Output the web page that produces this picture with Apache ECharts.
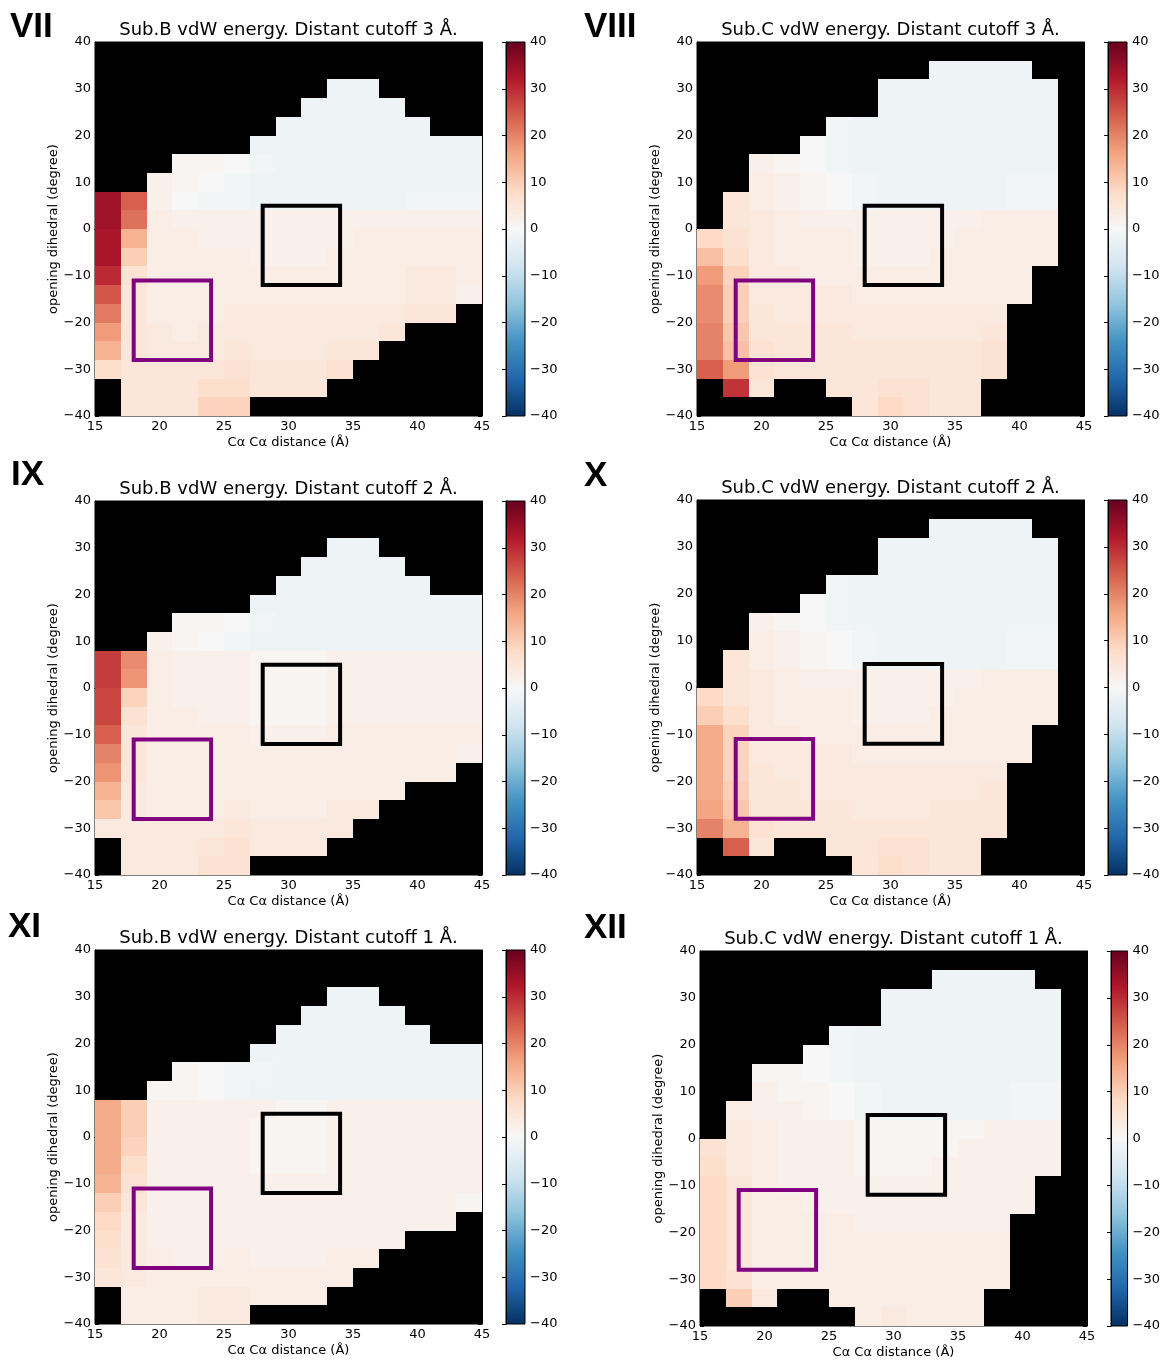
<!DOCTYPE html>
<html><head><meta charset="utf-8">
<script src="https://cdn.jsdelivr.net/npm/echarts@6/dist/echarts.min.js"></script>
<style>html,body{margin:0;padding:0;background:#fff}#c{width:1163px;height:1361px}</style>
</head><body><div id="c"></div><script>
const _ = null;
// cell centres (x: Cα-Cα distance, y: opening dihedral), rows listed top to bottom
const X_CENTERS = [16,18,20,22,24,26,28,30,32,34,36,38,40,42,44];
const Y_CENTERS = [38,34,30,26,22,18,14,10,6,2,-2,-6,-10,-14,-18,-22,-26,-30,-34,-38];
const CELL_W = 2, CELL_H = 4;
const X_TICKS = [15,20,25,30,35,40,45];
const Y_TICKS = [-40,-30,-20,-10,0,10,20,30,40];
const CBAR_TICKS = [-40,-30,-20,-10,0,10,20,30,40];
const V_MIN = -40, V_MAX = 40;

const VII = [
[_,_,_,_,_,_,_,_,_,_,_,_,_,_,_],
[_,_,_,_,_,_,_,_,_,_,_,_,_,_,_],
[_,_,_,_,_,_,_,_,_,-2,-2,_,_,_,_],
[_,_,_,_,_,_,_,_,-2,-2,-2,-2,_,_,_],
[_,_,_,_,_,_,_,-2,-2,-2,-2,-2,-2,_,_],
[_,_,_,_,_,_,-2,-2,-2,-2,-2,-2,-2,-2,-2],
[_,_,_,1,1,0,-1,-2,-2,-2,-2,-2,-2,-2,-2],
[_,_,2,1,0,-1,-2,-2,-2,-2,-2,-2,-2,-2,-2],
[34,24,2,0,-1,-1,-2,-2,-2,-2,-2,-2,-1,-1,-1],
[34,22,3,2,2,2,2,2,2,2,2,2,2,2,2],
[33,14,3,3,2,2,2,2,2,2,3,3,3,3,3],
[33,10,3,3,3,3,2,2,2,3,3,3,3,3,3],
[30,6,3,3,3,3,3,3,3,3,3,3,4,4,3],
[25,5,3,3,3,3,3,3,3,3,3,3,4,4,2],
[21,5,3,3,3,4,4,4,4,4,4,4,5,5,_],
[17,5,4,3,4,4,4,4,4,4,4,5,_,_,_],
[14,5,4,4,4,5,4,4,4,5,5,_,_,_,_],
[7,5,5,5,5,6,5,5,5,6,_,_,_,_,_],
[_,5,5,5,7,7,5,5,5,_,_,_,_,_,_],
[_,5,5,5,9,9,_,_,_,_,_,_,_,_,_]];

const IX = [
[_,_,_,_,_,_,_,_,_,_,_,_,_,_,_],
[_,_,_,_,_,_,_,_,_,_,_,_,_,_,_],
[_,_,_,_,_,_,_,_,_,-2,-2,_,_,_,_],
[_,_,_,_,_,_,_,_,-2,-2,-2,-2,_,_,_],
[_,_,_,_,_,_,_,-2,-2,-2,-2,-2,-2,_,_],
[_,_,_,_,_,_,-2,-2,-2,-2,-2,-2,-2,-2,-2],
[_,_,_,1,1,0,-1,-2,-2,-2,-2,-2,-2,-2,-2],
[_,_,2,1,0,-1,-2,-2,-2,-2,-2,-2,-2,-2,-2],
[28,19,3,2,2,2,1,1,1,2,2,2,2,2,2],
[28,18,3,2,2,2,1,1,1,2,2,2,2,2,2],
[27,9,3,2,2,2,1,1,1,2,2,2,2,2,2],
[27,6,3,3,2,2,1,1,1,2,2,2,2,2,2],
[24,5,3,3,3,3,2,2,2,3,3,3,3,3,3],
[20,5,3,3,3,3,3,3,3,3,3,3,3,3,2],
[18,5,3,3,3,3,3,3,3,3,3,3,3,3,_],
[14,4,3,3,3,3,3,3,3,3,3,3,_,_,_],
[11,4,3,3,3,4,3,3,3,4,4,_,_,_,_],
[4,4,4,4,4,5,4,4,4,4,_,_,_,_,_],
[_,4,4,4,5,6,4,4,4,_,_,_,_,_,_],
[_,4,4,4,6,6,_,_,_,_,_,_,_,_,_]];

const XI = [
[_,_,_,_,_,_,_,_,_,_,_,_,_,_,_],
[_,_,_,_,_,_,_,_,_,_,_,_,_,_,_],
[_,_,_,_,_,_,_,_,_,-2,-2,_,_,_,_],
[_,_,_,_,_,_,_,_,-2,-2,-2,-2,_,_,_],
[_,_,_,_,_,_,_,-2,-2,-2,-2,-2,-2,_,_],
[_,_,_,_,_,_,-2,-2,-2,-2,-2,-2,-2,-2,-2],
[_,_,_,1,0,-1,-1,-2,-2,-2,-2,-2,-2,-2,-2],
[_,_,1,1,0,-1,-2,-2,-2,-2,-2,-2,-2,-2,-2],
[15,10,2,2,2,2,2,1,1,2,2,2,2,2,2],
[15,10,2,2,2,2,1,1,1,2,2,2,2,2,2],
[15,9,2,2,2,2,1,1,1,2,2,2,2,2,2],
[15,7,2,2,2,2,1,1,1,2,2,2,2,2,2],
[14,6,2,2,2,2,2,2,2,2,2,2,2,2,2],
[10,5,2,2,2,2,2,2,2,2,2,2,2,2,1],
[8,4,2,2,2,2,2,2,2,2,2,2,2,2,_],
[7,4,2,2,2,2,2,2,2,2,2,2,_,_,_],
[6,4,3,2,2,3,2,2,2,3,3,_,_,_,_],
[5,4,3,3,3,3,3,3,3,3,_,_,_,_,_],
[_,3,3,3,4,4,3,3,3,_,_,_,_,_,_],
[_,3,3,3,4,4,_,_,_,_,_,_,_,_,_]];

const VIII = [
[_,_,_,_,_,_,_,_,_,_,_,_,_,_,_],
[_,_,_,_,_,_,_,_,_,-2,-2,-2,-2,_,_],
[_,_,_,_,_,_,_,-2,-2,-2,-2,-2,-2,-2,_],
[_,_,_,_,_,_,_,-2,-2,-2,-2,-2,-2,-2,_],
[_,_,_,_,_,-1,-2,-2,-2,-2,-2,-2,-2,-2,_],
[_,_,_,_,0,-1,-2,-2,-2,-2,-2,-2,-2,-2,_],
[_,_,2,1,0,-1,-2,-2,-2,-2,-2,-2,-2,-2,_],
[_,_,3,2,1,0,-1,-2,-2,-2,-2,-2,-1,-1,_],
[_,5,3,2,1,0,-1,-2,-2,-2,-2,-2,-1,-1,_],
[_,5,4,3,2,2,2,2,2,2,2,3,3,3,_],
[8,6,4,3,3,3,2,2,2,2,3,3,3,3,_],
[12,7,4,3,3,3,2,2,2,3,3,3,3,3,_],
[17,9,4,4,3,3,3,3,3,3,3,3,3,_,_],
[19,10,4,4,4,4,3,3,3,3,3,3,3,_,_],
[19,10,5,4,4,4,4,4,4,4,4,4,_,_,_],
[20,11,5,5,5,5,4,4,4,4,4,5,_,_,_],
[20,12,6,5,5,5,5,5,5,5,5,6,_,_,_],
[24,17,6,5,5,5,5,5,5,5,5,6,_,_,_],
[_,29,5,_,_,5,5,6,6,5,5,_,_,_,_],
[_,_,_,_,_,_,5,8,6,5,5,_,_,_,_]];

const X_PANEL = [
[_,_,_,_,_,_,_,_,_,_,_,_,_,_,_],
[_,_,_,_,_,_,_,_,_,-2,-2,-2,-2,_,_],
[_,_,_,_,_,_,_,-2,-2,-2,-2,-2,-2,-2,_],
[_,_,_,_,_,_,_,-2,-2,-2,-2,-2,-2,-2,_],
[_,_,_,_,_,-1,-2,-2,-2,-2,-2,-2,-2,-2,_],
[_,_,_,_,0,-1,-2,-2,-2,-2,-2,-2,-2,-2,_],
[_,_,2,1,0,-1,-2,-2,-2,-2,-2,-2,-2,-2,_],
[_,_,3,2,1,0,-1,-2,-2,-2,-2,-2,-1,-1,_],
[_,5,3,2,1,0,-1,-2,-2,-2,-2,-2,-1,-1,_],
[_,5,4,3,2,2,2,2,2,2,2,3,3,3,_],
[8,5,4,3,3,3,2,2,2,2,3,3,3,3,_],
[10,7,4,3,3,3,2,2,2,3,3,3,3,3,_],
[15,9,4,4,3,3,3,3,3,3,3,3,3,_,_],
[15,9,4,4,4,4,3,3,3,3,3,3,3,_,_],
[15,9,5,4,4,4,4,4,4,4,4,4,_,_,_],
[15,10,5,5,4,4,4,4,4,4,4,5,_,_,_],
[16,11,5,5,5,5,4,4,4,5,5,5,_,_,_],
[20,14,6,5,5,5,5,5,5,5,5,5,_,_,_],
[_,24,5,_,_,5,5,6,6,5,5,_,_,_,_],
[_,_,_,_,_,_,5,7,6,5,5,_,_,_,_]];

const XII = [
[_,_,_,_,_,_,_,_,_,_,_,_,_,_,_],
[_,_,_,_,_,_,_,_,_,-2,-2,-2,-2,_,_],
[_,_,_,_,_,_,_,-2,-2,-2,-2,-2,-2,-2,_],
[_,_,_,_,_,_,_,-2,-2,-2,-2,-2,-2,-2,_],
[_,_,_,_,_,-1,-2,-2,-2,-2,-2,-2,-2,-2,_],
[_,_,_,_,0,-1,-2,-2,-2,-2,-2,-2,-2,-2,_],
[_,_,1,1,0,-1,-2,-2,-2,-2,-2,-2,-2,-2,_],
[_,_,2,1,1,0,-1,-2,-2,-2,-2,-2,-1,-1,_],
[_,3,2,2,1,0,-1,-2,-2,-2,-2,-2,-1,-1,_],
[_,4,3,2,2,2,1,1,1,1,1,2,2,2,_],
[6,4,3,2,2,2,1,1,1,1,2,2,2,2,_],
[7,4,3,2,2,2,1,1,1,2,2,2,2,2,_],
[8,5,3,2,2,2,2,2,2,2,2,2,2,_,_],
[8,5,3,3,2,2,2,2,2,2,2,2,2,_,_],
[8,5,3,3,3,3,2,2,2,2,2,2,_,_,_],
[8,5,3,3,3,3,3,3,3,3,3,3,_,_,_],
[8,5,3,3,3,3,3,3,3,3,3,3,_,_,_],
[8,6,3,3,3,3,3,3,3,3,3,3,_,_,_],
[_,10,4,_,_,3,3,3,3,3,3,_,_,_,_],
[_,_,_,_,_,_,3,4,3,3,3,_,_,_,_]];

// highlighted regions [x0, y0, x1, y1]
const BOX_BLACK = [28, -12, 34, 5];
const BOX_PURPLE = [18, -28, 24, -11];

const PANEL_LABELS = ['VII','VIII','IX','X','XI','XII'];
const PANEL_TITLES = [
  'Sub.B vdW energy. Distant cutoff 3 \u00C5.',
  'Sub.C vdW energy. Distant cutoff 3 \u00C5.',
  'Sub.B vdW energy. Distant cutoff 2 \u00C5.',
  'Sub.C vdW energy. Distant cutoff 2 \u00C5.',
  'Sub.B vdW energy. Distant cutoff 1 \u00C5.',
  'Sub.C vdW energy. Distant cutoff 1 \u00C5.'
];
const PANEL_VALUES = [VII, VIII, IX, X_PANEL, XI, XII];
const X_NAME = 'C\u03B1 C\u03B1 distance (\u00C5)';
const Y_NAME = 'opening dihedral (degree)';

// RdBu_r
const CMAP = ['#053061','#2166ac','#4393c3','#92c5de','#d1e5f0','#f7f7f7','#fddbc7','#f4a582','#d6604d','#b2182b','#67001f'];

// layout
const LAYOUT = [
  {l:95,  t:42,  w:387, h:374, cb:506,  lx:10,  ly:27},
  {l:697, t:42,  w:387, h:374, cb:1108, lx:584, ly:27},
  {l:95,  t:501, w:387, h:374, cb:506,  lx:11,  ly:475},
  {l:697, t:500, w:387, h:375, cb:1108, lx:584, ly:476},
  {l:95,  t:950, w:387, h:374, cb:506,  lx:8,   ly:927},
  {l:700, t:951, w:387, h:375, cb:1111, lx:584, ly:928}
];

const FONT = 'DejaVu Sans';
const fmt = v => String(v).replace('-', '\u2212');

function cellItem(params, api) {
  const x = api.value(0), y = api.value(1);
  const a = api.coord([x - CELL_W / 2, y + CELL_H / 2]);
  const b = api.coord([x + CELL_W / 2, y - CELL_H / 2]);
  const x0 = Math.round(a[0]), y0 = Math.round(a[1]);
  const x1 = Math.round(b[0]), y1 = Math.round(b[1]);
  return {type: 'rect', shape: {x: x0, y: y0, width: x1 - x0, height: y1 - y0},
          style: {fill: api.visual('color')}};
}
function boxRenderer(color) {
  return function (params, api) {
    const a = api.coord([api.value(0), api.value(3)]);
    const b = api.coord([api.value(2), api.value(1)]);
    return {type: 'rect', shape: {x: a[0], y: a[1], width: b[0] - a[0], height: b[1] - a[1]},
            style: {fill: 'none', stroke: color, lineWidth: 4}, z2: 10};
  };
}

const grids = [], xAxes = [], yAxes = [], cellSeries = [], boxSeries = [], graphics = [];
const labelStyle = {fontFamily: FONT, fontSize: 13, color: '#000'};
const gradient = {type: 'linear', x: 0, y: 0, x2: 0, y2: 1,
  colorStops: CMAP.slice().reverse().map((c, i) => ({offset: i / (CMAP.length - 1), color: c}))};

LAYOUT.forEach((L, i) => {
  grids.push({left: L.l, top: L.t, width: L.w, height: L.h, show: true,
              backgroundColor: '#000', borderColor: '#000', borderWidth: 1});
  const baseX = {type: 'value', gridIndex: i, min: X_TICKS[0], max: X_TICKS[X_TICKS.length - 1], interval: 5,
    splitLine: {show: false}, axisLine: {show: true, lineStyle: {color: '#000', width: 1}},
    axisTick: {show: true, inside: true, length: 4, lineStyle: {color: '#000'}}};
  const baseY = {type: 'value', gridIndex: i, min: Y_TICKS[0], max: Y_TICKS[Y_TICKS.length - 1], interval: 10,
    splitLine: {show: false}, axisLine: {show: true, lineStyle: {color: '#000', width: 1}},
    axisTick: {show: true, inside: true, length: 4, lineStyle: {color: '#000'}}};
  xAxes.push(Object.assign({}, baseX, {position: 'bottom',
    axisLabel: Object.assign({margin: 4, formatter: fmt}, labelStyle),
    name: X_NAME, nameLocation: 'middle', nameGap: 20, nameTextStyle: labelStyle}));
  xAxes.push(Object.assign({}, baseX, {position: 'top', axisLabel: {show: false}}));
  yAxes.push(Object.assign({}, baseY, {position: 'left',
    axisLabel: Object.assign({margin: 4, formatter: fmt}, labelStyle),
    name: Y_NAME, nameLocation: 'middle', nameGap: 35, nameRotate: 90, nameTextStyle: labelStyle}));
  yAxes.push(Object.assign({}, baseY, {position: 'right', axisLabel: {show: false}}));

  const data = [];
  PANEL_VALUES[i].forEach((row, r) => row.forEach((v, c) => {
    if (v !== null) data.push([X_CENTERS[c], Y_CENTERS[r], v]);
  }));
  cellSeries.push({type: 'custom', xAxisIndex: 2 * i, yAxisIndex: 2 * i, renderItem: cellItem,
    encode: {x: 0, y: 1}, data: data, silent: true});
  boxSeries.push({type: 'custom', xAxisIndex: 2 * i, yAxisIndex: 2 * i, renderItem: boxRenderer('#000'),
    encode: {x: [0, 2], y: [1, 3]}, data: [BOX_BLACK], silent: true, z: 5});
  boxSeries.push({type: 'custom', xAxisIndex: 2 * i, yAxisIndex: 2 * i, renderItem: boxRenderer('#800080'),
    encode: {x: [0, 2], y: [1, 3]}, data: [BOX_PURPLE], silent: true, z: 5});

  graphics.push({type: 'text', x: L.l + L.w / 2, y: L.t - 12,
    style: {text: PANEL_TITLES[i], fontFamily: FONT, fontSize: 18, fill: '#000',
            textAlign: 'center', textVerticalAlign: 'middle'}});
  graphics.push({type: 'text', x: L.lx, y: L.ly,
    style: {text: PANEL_LABELS[i], fontFamily: 'Liberation Sans', fontWeight: 'bold', fontSize: 35, fill: '#000',
            textAlign: 'left', textVerticalAlign: 'middle'}});
});

// colorbars
LAYOUT.forEach((L, j) => {
  const gi = 6 + j;
  grids.push({left: L.cb, top: L.t, width: 19, height: L.h, show: true,
              backgroundColor: gradient, borderColor: '#000', borderWidth: 1});
  xAxes.push({type: 'value', gridIndex: gi, show: false, min: 0, max: 1});
  yAxes.push({type: 'value', gridIndex: gi, position: 'right', min: CBAR_TICKS[0],
    max: CBAR_TICKS[CBAR_TICKS.length - 1], interval: 10, splitLine: {show: false},
    axisLine: {show: true, lineStyle: {color: '#000'}},
    axisTick: {show: true, inside: true, length: 4, lineStyle: {color: '#000'}},
    axisLabel: Object.assign({margin: 5, formatter: fmt}, labelStyle)});
});

const chart = echarts.init(document.getElementById('c'), null, {renderer: 'canvas'});
chart.setOption({
  backgroundColor: '#fff',
  animation: false,
  grid: grids,
  xAxis: xAxes,
  yAxis: yAxes,
  visualMap: {type: 'continuous', show: false, min: V_MIN, max: V_MAX, dimension: 2,
    seriesIndex: [0, 1, 2, 3, 4, 5], inRange: {color: CMAP}},
  series: cellSeries.concat(boxSeries),
  graphic: graphics
});
</script></body></html>
